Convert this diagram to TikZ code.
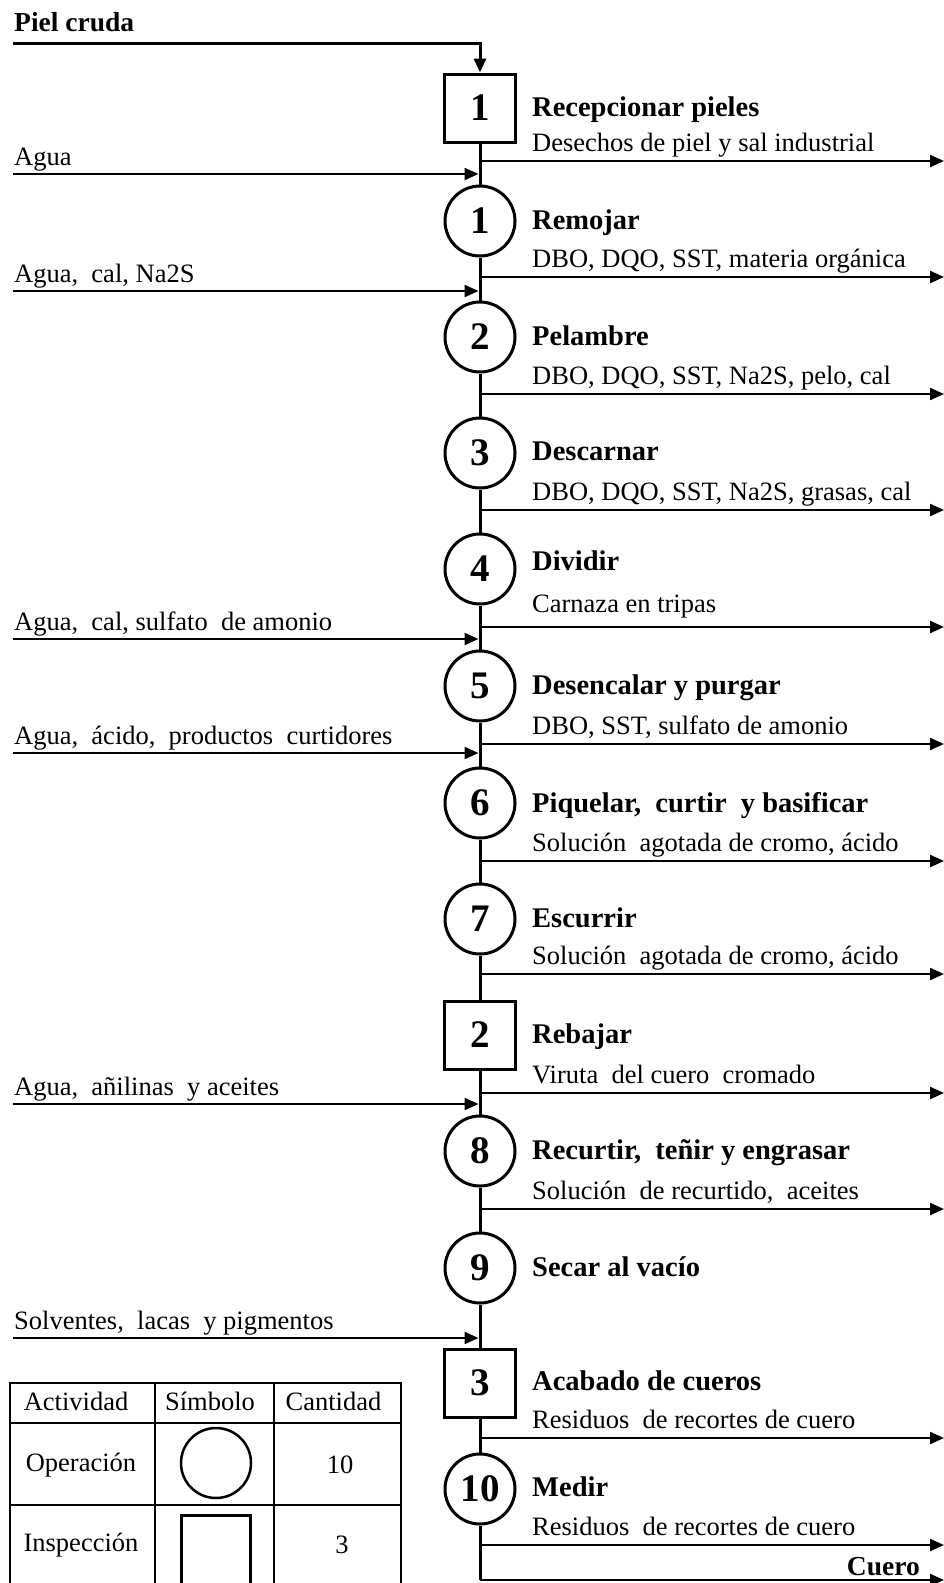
\documentclass[tikz,border=0pt]{standalone}
\usepackage{fontspec}
\setmainfont{Liberation Serif}
\usetikzlibrary{arrows.meta}

\begin{document}
\begin{tikzpicture}[x=1pt,y=-1pt,
  numfont/.style={font=\fontsize{39}{44}\selectfont\bfseries},
  proc/.style={circle,draw,line width=3pt,minimum size=70pt,inner sep=0pt,numfont},
  insp/.style={rectangle,draw,line width=3pt,minimum width=71pt,minimum height=68pt,inner sep=0pt,numfont},
  title/.style={anchor=base west,inner sep=0pt,font=\fontsize{28.5}{32}\selectfont\bfseries},
  desc/.style={anchor=base west,inner sep=0pt,font=\fontsize{26.5}{30}\selectfont},
  cell/.style={inner sep=0pt,font=\fontsize{26.5}{30}\selectfont},
  flow/.style={line width=3pt},
  feed/.style={line width=2.2pt,-{Triangle[length=14pt,width=12pt]}},
]
\useasboundingbox (0,0) rectangle (944,1583);
\clip (0,0) rectangle (944,1583);

% raw material entering the first inspection
\node[anchor=base west,inner sep=0pt,font=\fontsize{27.5}{32}\selectfont\bfseries] (raw) at (14,31) {Piel cruda};
\coordinate (raw0) at (13,43);
\coordinate (raw1) at (480,43);

% process chain: squares are inspections, circles are operations
\node[insp] (s1)  at (480,108)  {1};
\node[proc] (s2)  at (480,221)  {1};
\node[proc] (s3)  at (480,337)  {2};
\node[proc] (s4)  at (480,453)  {3};
\node[proc] (s5)  at (480,569)  {4};
\node[proc] (s6)  at (480,686)  {5};
\node[proc] (s7)  at (480,803)  {6};
\node[proc] (s8)  at (480,919)  {7};
\node[insp] (s9)  at (480,1035) {2};
\node[proc] (s10) at (480,1151) {8};
\node[proc] (s11) at (480,1268) {9};
\node[insp] (s12) at (480,1383) {3};
\node[proc] (s13) at (480,1489) {10};

\draw[line width=3pt,-{Triangle[length=14pt,width=12pt]}] (raw0) -- (raw1) -- (s1.north);
\draw[flow] (s1) -- (s2) -- (s3) -- (s4) -- (s5) -- (s6) -- (s7) -- (s8)
            -- (s9) -- (s10) -- (s11) -- (s12) -- (s13);
\coordinate (endc) at (480,1580);
\coordinate (ende) at (944,1580);
\draw[flow] (s13) -- (endc);
\draw[feed] (endc) -- (ende);
\node[anchor=base east,inner sep=0pt,font=\fontsize{27.5}{32}\selectfont\bfseries] (prod) at (920,1575) {Cuero};

% step names
\node[title] (t1)  at (532,116)  {Recepcionar pieles};
\node[title] (t2)  at (532,229)  {Remojar};
\node[title] (t3)  at (532,345)  {Pelambre};
\node[title] (t4)  at (532,460)  {Descarnar};
\node[title] (t5)  at (532,570)  {Dividir};
\node[title] (t6)  at (532,694)  {Desencalar y purgar};
\node[title] (t7)  at (532,812)  {Piquelar,\ \ curtir\ \ y basificar};
\node[title] (t8)  at (532,927)  {Escurrir};
\node[title] (t9)  at (532,1043) {Rebajar};
\node[title] (t10) at (532,1159) {Recurtir,\ \ teñir y engrasar};
\node[title] (t11) at (532,1276) {Secar al vacío};
\node[title] (t12) at (532,1390) {Acabado de cueros};
\node[title] (t13) at (532,1496) {Medir};

% wastes leaving each step
\node[desc] (w1)  at (532,151)  {Desechos de piel y sal industrial};
\node[desc] (w2)  at (532,267)  {DBO, DQO, SST, materia orgánica};
\node[desc] (w3)  at (532,384)  {DBO, DQO, SST, Na2S, pelo, cal};
\node[desc] (w4)  at (532,500)  {DBO, DQO, SST, Na2S, grasas, cal};
\node[desc] (w5)  at (532,612)  {Carnaza en tripas};
\node[desc] (w6)  at (532,734)  {DBO, SST, sulfato de amonio};
\node[desc] (w7)  at (532,851)  {Solución\ \ agotada de cromo, ácido};
\node[desc] (w8)  at (532,964)  {Solución\ \ agotada de cromo, ácido};
\node[desc] (w9)  at (532,1083) {Viruta\ \ del cuero\ \ cromado};
\node[desc] (w10) at (532,1199) {Solución\ \ de recurtido,\ \ aceites};
\node[desc] (w12) at (532,1428) {Residuos\ \ de recortes de cuero};
\node[desc] (w13) at (532,1535) {Residuos\ \ de recortes de cuero};

\foreach \y [count=\i] in {161,277,394,510,627,744,861,974,1093,1209,1438,1545} {
  \coordinate (out\i) at (480,\y);
  \coordinate (outend\i) at (944,\y);
  \draw[feed] (out\i) -- (outend\i);
}

% inputs fed into the chain
\node[desc] (f1) at (14,165)  {Agua};
\node[desc] (f2) at (14,282)  {Agua,\ \ cal, Na2S};
\node[desc] (f3) at (14,630)  {Agua,\ \ cal, sulfato\ \ de amonio};
\node[desc] (f4) at (14,744)  {Agua,\ \ ácido,\ \ productos\ \ curtidores};
\node[desc] (f5) at (14,1095) {Agua,\ \ añilinas\ \ y aceites};
\node[desc] (f6) at (14,1329) {Solventes,\ \ lacas\ \ y pigmentos};
\foreach \y [count=\i] in {174,291,639,753,1104,1338} {
  \coordinate (in\i) at (13,\y);
  \coordinate (inend\i) at (478.5,\y);
  \draw[feed] (in\i) -- (inend\i);
}

% summary table
\draw[line width=2.5pt] (10,1600) -- (10,1383) -- (401,1383) -- (401,1600);
\draw[line width=1.6pt] (10,1423) -- (401,1423)
                        (10,1505) -- (401,1505)
                        (155,1383) -- (155,1600)
                        (274,1383) -- (274,1600);
\node[cell] (h1) at (76,1401)  {Actividad};
\node[cell] (h2) at (210,1401) {Símbolo};
\node[cell] (h3) at (333.5,1401) {Cantidad};
\node[cell] (r1a) at (81,1465)  {Operación};
\node[circle,draw,line width=2.5pt,minimum size=70pt,inner sep=0pt] (r1b) at (216,1463) {};
\node[cell] (r1c) at (340,1465) {10};
\node[cell] (r2a) at (81,1545)  {Inspección};
\node[draw,line width=3pt,minimum size=69pt,inner sep=0pt] (r2b) at (216,1550) {};
\node[cell] (r2c) at (342,1545) {3};
\end{tikzpicture}
\end{document}
